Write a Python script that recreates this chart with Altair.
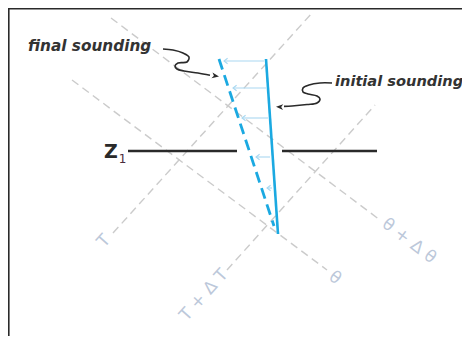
import altair as alt
import pandas as pd

W, H = 454, 328

# --- grey guide lines (isotherms T, T+dT ; isentropes theta, theta+dtheta) ---
guide_names = ["T", "T+ΔT", "θ", "θ+Δθ"]
guide_x1 = [113, 227, 72, 111]
guide_y1 = [233, 270, 80, 18]
guide_x2 = [312, 375, 327, 380]
guide_y2 = [13, 105, 270, 220]

label_text = ["T", "T + Δ T", "θ", "θ + Δ θ"]
label_x = [104, 204, 335, 409]
label_y = [241, 295, 278, 241]
label_angle = [312, 312, 37, 37]

# --- soundings ---
sounding_names = ["initial", "final"]
sounding_x1 = [266, 219]
sounding_y1 = [59, 59]
sounding_x2 = [278, 274]
sounding_y2 = [234, 226]

# --- thin arrows from initial to final sounding ---
arrow_y = [61, 88, 118, 157, 188]
arrow_x_from = [264, 266, 268, 270, 272]
arrow_x_to = [224, 233, 242, 256, 267]

# --- Z1 level ---
z_x1 = [128, 282]
z_x2 = [237, 377]
z_y = [151, 151]

# --- squiggly pointer arrows ---
final_sq_x = [163, 173, 183, 189, 187, 178, 175, 177, 184, 198, 210]
final_sq_y = [49, 50, 53, 57, 62, 63, 66, 69, 71, 73, 75.2]
initial_sq_x = [332, 320, 309, 303, 303, 308, 317, 320, 317, 307, 292, 284]
initial_sq_y = [83, 83, 85, 88, 92, 94, 96, 99, 103, 104.5, 106, 106.4]
head_x = [219, 276]
head_y = [76.6, 106.8]
head_angle = [10, 182]

text_labels = ["final sounding", "initial sounding"]
text_x = [28, 335]
text_y = [51, 86]

xs = alt.Scale(domain=[8, 8 + W], nice=False, zero=False)
ys = alt.Scale(domain=[8, 8 + H], nice=False, zero=False, reverse=True)


def X(f):
    return alt.X(f, type="quantitative", scale=xs, axis=None)


def Y(f):
    return alt.Y(f, type="quantitative", scale=ys, axis=None)


guides = pd.DataFrame({"name": guide_names, "x1": guide_x1, "y1": guide_y1,
                       "x2": guide_x2, "y2": guide_y2})
guide_layer = alt.Chart(guides).mark_rule(
    color="#cbcbcb", strokeWidth=1.4, strokeDash=[8, 5]
).encode(x=X("x1"), y=Y("y1"), x2="x2", y2="y2")

labels = pd.DataFrame({"t": label_text, "x": label_x, "y": label_y, "a": label_angle})
label_layer = alt.Chart(labels).mark_text(
    font="DejaVu Sans", fontSize=17, color="#bcc8da", align="center", baseline="middle"
).encode(x=X("x"), y=Y("y"), text="t:N", angle=alt.Angle("a:Q", scale=None))

frame = pd.DataFrame({"x1": [8.8, 8], "y1": [8, 8.8], "x2": [8.8, 8 + W], "y2": [8 + H, 8.8]})
frame_layer = alt.Chart(frame).mark_rule(color="#2a2a2a", strokeWidth=1.6).encode(
    x=X("x1"), y=Y("y1"), x2="x2", y2="y2")

zdf = pd.DataFrame({"x1": z_x1, "x2": z_x2, "y": z_y})
z_layer = alt.Chart(zdf).mark_rule(color="#2a2a2a", strokeWidth=2.6).encode(
    x=X("x1"), x2="x2", y=Y("y"))

zlab = alt.Chart(pd.DataFrame({"t": ["Z"], "x": [111], "y": [157.5]})).mark_text(
    font="DejaVu Sans", fontWeight="bold", fontSize=19, color="#2a2a2a",
    align="center", baseline="alphabetic").encode(x=X("x"), y=Y("y"), text="t:N")
zsub = alt.Chart(pd.DataFrame({"t": ["1"], "x": [122.5], "y": [163]})).mark_text(
    font="DejaVu Sans", fontSize=12, color="#4a2c3c",
    align="center", baseline="alphabetic").encode(x=X("x"), y=Y("y"), text="t:N")

adf = pd.DataFrame({"x1": arrow_x_from, "x2": arrow_x_to, "y": arrow_y})
arrow_layer = alt.Chart(adf).mark_rule(color="#a9d8f1", strokeWidth=1.1).encode(
    x=X("x1"), x2="x2", y=Y("y"))
arrow_head = alt.Chart(adf).mark_point(
    shape="M1.2,-0.9L0,0L1.2,0.9", filled=False, color="#a9d8f1", strokeWidth=1.1, size=36,
    opacity=1
).encode(x=X("x2"), y=Y("y"))

sdf = pd.DataFrame({"name": sounding_names, "x1": sounding_x1, "y1": sounding_y1,
                    "x2": sounding_x2, "y2": sounding_y2})
solid_layer = alt.Chart(sdf[sdf.name == "initial"]).mark_rule(
    color="#1ba9e1", strokeWidth=2.6).encode(x=X("x1"), y=Y("y1"), x2="x2", y2="y2")
dash_layer = alt.Chart(sdf[sdf.name == "final"]).mark_rule(
    color="#1ba9e1", strokeWidth=2.8, strokeDash=[11, 6]).encode(
    x=X("x1"), y=Y("y1"), x2="x2", y2="y2")

sq = pd.DataFrame({
    "x": final_sq_x + initial_sq_x,
    "y": final_sq_y + initial_sq_y,
    "id": ["f"] * len(final_sq_x) + ["i"] * len(initial_sq_x),
    "o": list(range(len(final_sq_x))) + list(range(len(initial_sq_x))),
})
sq_layer = alt.Chart(sq).mark_line(
    color="#2a2a2a", strokeWidth=1.6, interpolate="catmull-rom"
).encode(x=X("x"), y=Y("y"), detail="id:N", order="o:Q")

hdf = pd.DataFrame({"x": head_x, "y": head_y, "a": head_angle})
head_layer = alt.Chart(hdf).mark_point(
    shape="M0,0L-2.2,-0.9L-1.6,0L-2.2,0.9Z", filled=True, color="#2a2a2a", size=42,
    opacity=1
).encode(x=X("x"), y=Y("y"), angle=alt.Angle("a:Q", scale=None))

tdf = pd.DataFrame({"t": text_labels, "x": text_x, "y": text_y, "s": [15.3, 14.6]})
text_layer = alt.Chart(tdf).mark_text(
    font="DejaVu Sans", fontWeight="bold", fontStyle="italic",
    color="#333333", align="left", baseline="alphabetic"
).encode(x=X("x"), y=Y("y"), text="t:N", size=alt.Size("s:Q", scale=None))

chart = alt.layer(
    frame_layer, guide_layer, label_layer, z_layer, zlab, zsub,
    arrow_layer, arrow_head, solid_layer, dash_layer, sq_layer, head_layer, text_layer
).properties(
    width=W, height=H, padding=0, autosize=alt.AutoSizeParams(type="none")
).configure_view(strokeWidth=0, stroke="transparent")

chart.save("out.html", embed_options={"renderer": "svg", "actions": False})
